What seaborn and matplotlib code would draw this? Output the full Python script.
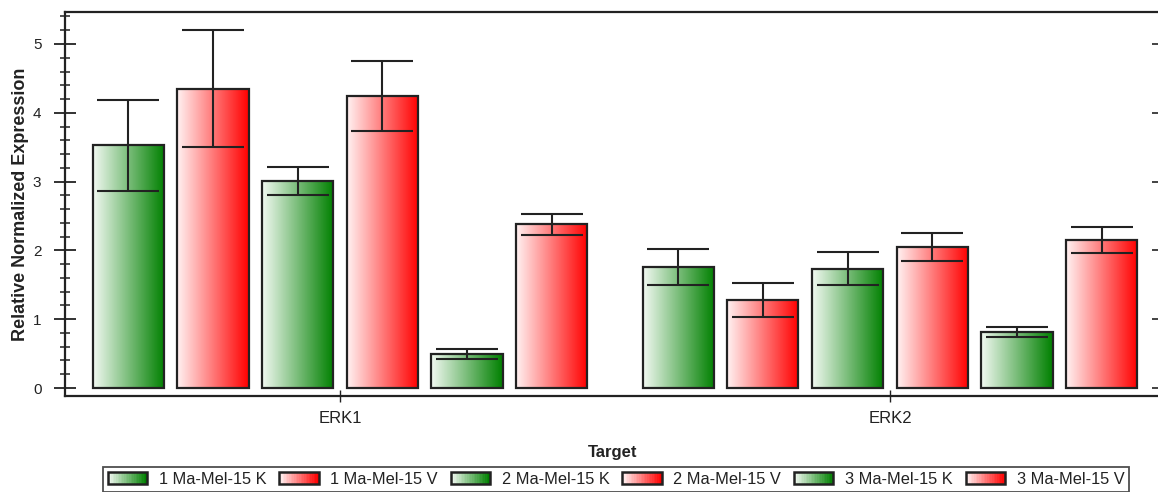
import numpy as np
import pandas as pd
import matplotlib
matplotlib.use("Agg")
import matplotlib.pyplot as plt
from matplotlib.patches import Rectangle
from matplotlib.legend_handler import HandlerBase
from matplotlib.colors import LinearSegmentedColormap, to_rgb
from matplotlib.ticker import MultipleLocator
import seaborn as sns

# Targets and sample groups
targets = ["ERK1", "ERK2"]
samples = ["1 Ma-Mel-15 K", "1 Ma-Mel-15 V", "2 Ma-Mel-15 K",
           "2 Ma-Mel-15 V", "3 Ma-Mel-15 K", "3 Ma-Mel-15 V"]

# Relative normalized expression per sample, one list per target
expr_erk1 = [3.53, 4.35, 3.01, 4.24, 0.49, 2.38]
expr_erk2 = [1.76, 1.28, 1.73, 2.05, 0.81, 2.15]

# Error (± half-range of the error bars)
err_erk1 = [0.66, 0.85, 0.20, 0.51, 0.07, 0.15]
err_erk2 = [0.26, 0.25, 0.24, 0.20, 0.075, 0.19]

y_ticks = [0, 1, 2, 3, 4, 5]

# Bar end colours: K samples green, V samples red
end_colors = ["#008000", "#ff0000"] * 3
start_colors = ["#f2f9f2", "#fff2f2"] * 3

sns.set_theme(style="white")
plt.rcParams["font.family"] = ["Liberation Sans", "DejaVu Sans"]

df = pd.DataFrame({
    "Target": np.repeat(targets, len(samples)),
    "Sample": samples * len(targets),
    "Expression": expr_erk1 + expr_erk2,
})
errors = {"ERK1": err_erk1, "ERK2": err_erk2}

fig = plt.figure(figsize=(11.58, 4.92), dpi=100)
ax = fig.add_axes([65 / 1158, 1 - 396 / 492, 1095 / 1158, 384 / 492])

sns.barplot(data=df, x="Target", y="Expression", hue="Sample",
            hue_order=samples, order=targets, palette=end_colors,
            width=0.924, gap=0.16, errorbar=None, legend=False, ax=ax)

# Horizontal white-to-colour gradient inside each bar
grad = np.linspace(0, 1, 256).reshape(1, -1)
bar_containers = list(ax.containers)
for i, container in enumerate(bar_containers):
    cmap = LinearSegmentedColormap.from_list(
        f"g{i}", [to_rgb(start_colors[i]), to_rgb(end_colors[i])])
    for j, bar in enumerate(container):
        x0, w, h = bar.get_x(), bar.get_width(), bar.get_height()
        im = ax.imshow(grad, cmap=cmap, aspect="auto",
                       extent=[x0, x0 + w, 0, h], zorder=2,
                       interpolation="bilinear")
        im.set_clip_path(bar)
        bar.set_facecolor("none")
        bar.set_edgecolor("#222222")
        bar.set_linewidth(1.6)
        bar.set_zorder(3)
        ax.errorbar(x0 + w / 2, h, yerr=errors[targets[j]][i],
                    fmt="none", ecolor="#222222", elinewidth=1.5,
                    capsize=22, capthick=1.5, zorder=4)

ax.set_xlim(-0.5, 1.491)
ax.set_ylim(-0.116, 5.465)
ax.set_aspect("auto")

ax.yaxis.set_major_locator(MultipleLocator(1))
ax.yaxis.set_minor_locator(MultipleLocator(0.2))
ax.set_yticks(y_ticks)
ax.tick_params(axis="y", which="major", direction="inout", length=16,
               width=1.3, color="#222222", labelsize=11, labelcolor="#222222",
               left=True, right=False, pad=9)
ax.tick_params(axis="y", which="minor", direction="inout", length=7,
               width=1.1, color="#222222", left=True, right=False)
ax.tick_params(axis="x", which="major", direction="inout", length=9,
               width=1.0, color="#222222", labelsize=12, labelcolor="#222222",
               bottom=True, pad=6)

# Short unlabeled ticks on the right-hand side
sec = ax.secondary_yaxis("right")
sec.set_yticks(y_ticks)
sec.tick_params(axis="y", which="major", direction="in", length=6,
                width=1.2, color="#222222", labelright=False)
sec.tick_params(axis="y", which="minor", right=False)
sec.spines["right"].set_visible(False)

for side in ["left", "top", "bottom", "right"]:
    ax.spines[side].set_visible(True)
    ax.spines[side].set_color("#222222")
    ax.spines[side].set_linewidth(1.6)

ax.set_xlabel("Target", fontsize=12, fontweight="bold", color="#222222",
              labelpad=14)
ax.set_ylabel("Relative Normalized Expression", fontsize=13,
              fontweight="bold", color="#222222", labelpad=3)


class GradientHandler(HandlerBase):
    def __init__(self, c0, c1, **kw):
        super().__init__(**kw)
        self.c0, self.c1 = np.array(to_rgb(c0)), np.array(to_rgb(c1))

    def create_artists(self, legend, orig_handle, xdescent, ydescent,
                       width, height, fontsize, trans):
        artists = []
        n = 24
        for k in range(n):
            t = k / (n - 1)
            col = (1 - t) * self.c0 + t * self.c1
            artists.append(Rectangle((-xdescent + width * k / n, -ydescent),
                                     width / n + 0.3, height,
                                     facecolor=col, edgecolor="none",
                                     transform=trans))
        artists.append(Rectangle((-xdescent, -ydescent), width, height,
                                 facecolor="none", edgecolor="#222222",
                                 linewidth=1.8, transform=trans))
        return artists


handles = [Rectangle((0, 0), 1, 1) for _ in samples]
handler_map = {h: GradientHandler(start_colors[i], end_colors[i])
               for i, h in enumerate(handles)}
leg = fig.legend(handles, samples, handler_map=handler_map, ncol=6,
                 loc="upper center", bbox_to_anchor=(616 / 1158, 1 - 467 / 492),
                 borderaxespad=0, fontsize=11.8, frameon=True, fancybox=False,
                 edgecolor="#222222", handlelength=2.4, handleheight=0.7,
                 handletextpad=0.7, columnspacing=0.8, borderpad=0.3)
leg.get_frame().set_linewidth(1.3)
for t in leg.get_texts():
    t.set_color("#222222")

fig.savefig("out.png", dpi=100)
